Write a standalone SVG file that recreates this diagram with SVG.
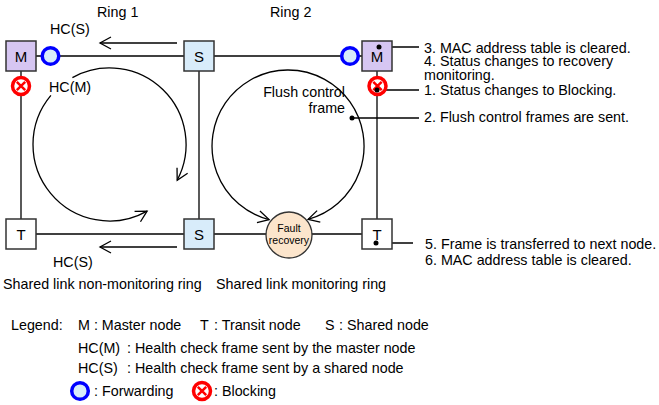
<svg xmlns="http://www.w3.org/2000/svg" width="659" height="405" viewBox="0 0 659 405">
<style>
text{font-family:"Liberation Sans",Arial,sans-serif;font-size:14.3px;fill:#000}
.box{stroke:#333;stroke-width:1.5}
.m{fill:#d6c6f2}.s{fill:#d8ecfa}.t{fill:#fff}
.lbl{font-size:15px;text-anchor:middle}
.ln{stroke:#000;stroke-width:1.3;fill:none}
.fw{fill:#d8ecfa;stroke:#0000ff;stroke-width:3.5}
.bk{fill:#fff;stroke:#ff0000;stroke-width:3.5}
.bx{stroke:#ff0000;stroke-width:2.5}
.dot{fill:#000}
.sm{font-size:10.5px;text-anchor:middle}
</style>
<defs>
<marker id="ah" markerUnits="userSpaceOnUse" markerWidth="14" markerHeight="14" viewBox="0 0 14 14" refX="12" refY="7" orient="auto-start-reverse">
<path d="M1,1 L12,7 L1,13" fill="none" stroke="#000" stroke-width="1.3"/>
</marker>
<g id="blk"><circle r="8.5" class="bk"/><path d="M-4.2,-4.2L4.2,4.2M4.2,-4.2L-4.2,4.2" class="bx"/></g>
</defs>
<g id="connectors">
<line x1="36" y1="56" x2="362" y2="56" class="ln"/>
<line x1="36" y1="234" x2="362" y2="234" class="ln"/>
<line x1="21" y1="71" x2="21" y2="219" class="ln"/>
<line x1="199" y1="71" x2="199" y2="219" class="ln"/>
<line x1="377" y1="71" x2="377" y2="219" class="ln"/>
<line x1="177" y1="43" x2="100" y2="43" class="ln" marker-end="url(#ah)"/>
<line x1="177" y1="247" x2="100" y2="247" class="ln" marker-end="url(#ah)"/>
<path d="M72.4,77.6 A76.5,76.5 0 0 1 177.2,180.2" class="ln" marker-end="url(#ah)"/>
<path d="M50.9,95.3 A76.5,76.5 0 0 0 147.1,211.1" class="ln" marker-end="url(#ah)"/>
<path d="M269.1,219.6 A76,76 0 1 1 308.1,219.3" class="ln" marker-start="url(#ah)" marker-end="url(#ah)"/>
<line x1="379" y1="47" x2="419" y2="47" class="ln"/>
<line x1="377" y1="90" x2="419" y2="90" class="ln"/>
<line x1="352" y1="118" x2="419" y2="118" class="ln"/>
<line x1="376" y1="243" x2="413" y2="243" class="ln"/>
</g>
<g id="node-m1"><rect x="6" y="41" width="30" height="30" class="box m"/><text x="21" y="61.5" class="lbl">M</text></g>
<g id="node-s1"><rect x="184" y="41" width="30" height="30" class="box s"/><text x="199" y="61.5" class="lbl">S</text></g>
<g id="node-m2"><rect x="362" y="41" width="30" height="30" class="box m"/><text x="377" y="61.5" class="lbl">M</text></g>
<g id="node-t1"><rect x="6" y="219" width="30" height="30" class="box t"/><text x="21" y="239.5" class="lbl">T</text></g>
<g id="node-s2"><rect x="184" y="219" width="30" height="30" class="box s"/><text x="199" y="239.5" class="lbl">S</text></g>
<g id="node-t2"><rect x="362" y="219" width="30" height="30" class="box t"/><text x="377" y="239.5" class="lbl">T</text></g>
<g id="node-fault"><circle cx="289" cy="235" r="23" fill="#fce5cc" stroke="#333" stroke-width="1.3"/><text x="289" y="232" class="sm">Fault</text><text x="289" y="244" class="sm">recovery</text></g>
<g id="ports">
<circle cx="50.5" cy="56" r="8.3" class="fw"/>
<circle cx="350" cy="56" r="8.3" class="fw"/>
<use href="#blk" x="21" y="86"/>
<use href="#blk" x="377.5" y="86"/>
</g>
<g id="dots">
<circle cx="379" cy="47" r="2.5" class="dot"/>
<circle cx="377" cy="90" r="2.5" class="dot"/>
<circle cx="352" cy="118" r="2.5" class="dot"/>
<circle cx="376" cy="243" r="2.5" class="dot"/>
</g>
<g id="labels">
<text x="97" y="17">Ring 1</text>
<text x="270" y="17">Ring 2</text>
<text x="50" y="34">HC(S)</text>
<text x="49" y="92">HC(M)</text>
<text x="53" y="267">HC(S)</text>
<text x="345" y="97" text-anchor="end">Flush control</text>
<text x="345" y="113" text-anchor="end">frame</text>
<text x="424" y="52.5">3. MAC address table is cleared.</text>
<text x="424" y="65.5">4. Status changes to recovery</text>
<text x="424" y="80">monitoring.</text>
<text x="424" y="95">1. Status changes to Blocking.</text>
<text x="424" y="122">2. Flush control frames are sent.</text>
<text x="425" y="249">5. Frame is transferred to next node.</text>
<text x="425" y="265">6. MAC address table is cleared.</text>
<text x="3" y="289">Shared link non-monitoring ring</text>
<text x="216" y="289">Shared link monitoring ring</text>
</g>
<g id="legend">
<text x="11" y="330">Legend:</text>
<text x="78" y="330">M : Master node</text>
<text x="200" y="330">T</text><text x="214" y="330">: Transit node</text>
<text x="325" y="330">S</text><text x="339" y="330">: Shared node</text>
<text x="78" y="353">HC(M)</text><text x="127" y="353">: Health check frame sent by the master node</text>
<text x="78" y="373">HC(S)</text><text x="127" y="373">: Health check frame sent by a shared node</text>
<circle cx="80" cy="391" r="8.3" class="fw"/>
<text x="94" y="396">: Forwarding</text>
<use href="#blk" x="202" y="391"/>
<text x="214" y="396">: Blocking</text>
</g>
</svg>
